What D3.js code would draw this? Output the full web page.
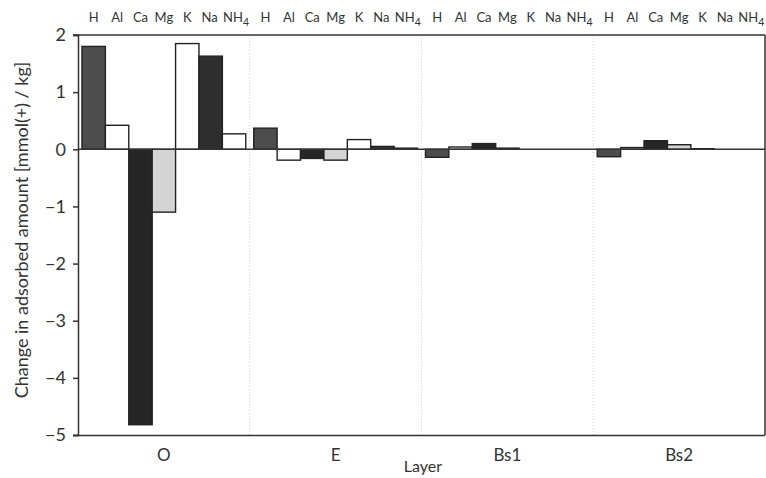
<!DOCTYPE html>
<html>
<head>
<meta charset="utf-8">
<script src="https://cdn.jsdelivr.net/npm/d3@7"></script>
<style>
  html, body { margin: 0; padding: 0; background: #fff; }
  svg text { font-family: Lato, "Open Sans", sans-serif; fill: #333; }
</style>
</head>
<body>
<svg id="chart" width="766" height="478"></svg>
<script>
// Soil layers and exchangeable cations
const layers = ["O", "E", "Bs1", "Bs2"];
const ions = ["H", "Al", "Ca", "Mg", "K", "Na", "NH4"];

// Change in adsorbed amount per layer, mmol(+)/kg, ordered as ions
const valuesO   = [1.80, 0.42, -4.82, -1.10, 1.85, 1.63, 0.27];
const valuesE   = [0.37, -0.19, -0.16, -0.19, 0.17, 0.05, 0.02];
const valuesBs1 = [-0.14, 0.04, 0.10, 0.02, 0.00, 0.00, 0.00];
const valuesBs2 = [-0.13, 0.03, 0.15, 0.08, 0.01, 0.00, 0.00];

const yTicks = [-5, -4, -3, -2, -1, 0, 1, 2];
const ionFills = ["#4d4d4d", "#ffffff", "#262626", "#d4d4d4", "#ffffff", "#2e2e2e", "#ffffff"];

const seriesByLayer = [valuesO, valuesE, valuesBs1, valuesBs2];
const data = [];
layers.forEach((layer, li) => {
  ions.forEach((ion, ii) => data.push({ layer, ion, value: seriesByLayer[li][ii] }));
});

const svg = d3.select("#chart");
const plotLeft = 78, plotRight = 765, plotTop = 35, plotBottom = 435;

const x0 = d3.scaleBand().domain(layers).range([plotLeft, plotRight]).paddingInner(0).paddingOuter(0);
const x1 = d3.scaleBand().domain(ions).range([0, x0.bandwidth()]).paddingInner(0).paddingOuter(0.17);
const y = d3.scaleLinear().domain([-5, 2]).range([plotBottom, plotTop]);
const fill = d3.scaleOrdinal().domain(ions).range(ionFills);

// Layer separators
svg.append("g").selectAll("line")
  .data(layers.slice(1))
  .join("line")
  .attr("x1", d => x0(d)).attr("x2", d => x0(d))
  .attr("y1", plotTop).attr("y2", plotBottom)
  .attr("stroke", "#cfcfcf").attr("stroke-width", 1)
  .attr("stroke-dasharray", "1,2");

// Bars
svg.append("g").selectAll("rect")
  .data(data)
  .join("rect")
  .attr("x", d => x0(d.layer) + x1(d.ion))
  .attr("width", x1.bandwidth())
  .attr("y", d => y(Math.max(0, d.value)))
  .attr("height", d => Math.abs(y(d.value) - y(0)))
  .attr("fill", d => fill(d.ion))
  .attr("stroke", "#222")
  .attr("stroke-width", 1.4);

// Zero line
svg.append("line")
  .attr("x1", plotLeft).attr("x2", plotRight)
  .attr("y1", y(0)).attr("y2", y(0))
  .attr("stroke", "#333").attr("stroke-width", 1.4);

// Frame: top and right borders
svg.append("line").attr("x1", plotLeft - 5).attr("x2", plotRight).attr("y1", plotTop).attr("y2", plotTop)
  .attr("stroke", "#333").attr("stroke-width", 1.5);
svg.append("line").attr("x1", plotRight).attr("x2", plotRight).attr("y1", plotTop).attr("y2", plotBottom)
  .attr("stroke", "#333").attr("stroke-width", 1.5);

// Y axis
const yAxis = svg.append("g")
  .attr("transform", `translate(${plotLeft},0)`)
  .call(d3.axisLeft(y).tickValues(yTicks).tickSize(5).tickPadding(7)
    .tickFormat(d => d < 0 ? "\u2212" + Math.abs(d) : d));
yAxis.select(".domain").attr("stroke", "#333").attr("stroke-width", 1.5);
yAxis.selectAll(".tick line").attr("stroke", "#333").attr("stroke-width", 1.5);
yAxis.selectAll(".tick text").attr("font-size", 18).style("fill", "#333");

// X axis (layer names)
const xAxis = svg.append("g")
  .attr("transform", `translate(0,${plotBottom})`)
  .call(d3.axisBottom(x0).tickSize(0).tickPadding(14));
xAxis.select(".domain").attr("d", `M${plotLeft - 5},0.5H${plotRight}`).attr("stroke", "#333").attr("stroke-width", 1.5);
xAxis.selectAll(".tick text").attr("font-size", 17).style("fill", "#333");

// Ion labels above each bar
const ionLabels = svg.append("g").selectAll("text")
  .data(data)
  .join("text")
  .attr("x", d => x0(d.layer) + x1(d.ion) + x1.bandwidth() / 2 + (d.ion === "NH4" ? 2 : d.ion === "Na" ? -1 : 0))
  .attr("y", 22)
  .attr("text-anchor", "middle")
  .attr("font-size", 13);
ionLabels.each(function(d) {
  const t = d3.select(this);
  if (d.ion === "NH4") {
    t.append("tspan").text("NH");
    t.append("tspan").attr("dy", 4).attr("font-size", 10.5).text("4");
  } else {
    t.text(d.ion);
  }
});

// Axis titles
svg.append("text")
  .attr("transform", `translate(28,230) rotate(-90)`)
  .attr("text-anchor", "middle")
  .attr("font-size", 18)
  .text("Change in adsorbed amount  [mmol(+) / kg]");

svg.append("text")
  .attr("x", 423).attr("y", 472)
  .attr("text-anchor", "middle")
  .attr("font-size", 16)
  .text("Layer");
</script>
</body>
</html>
